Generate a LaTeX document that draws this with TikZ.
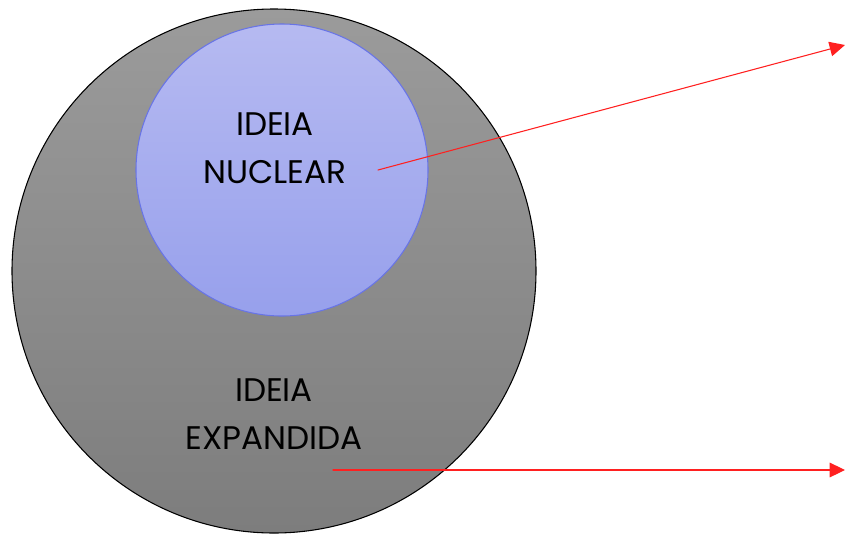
\documentclass[tikz,border=0pt]{standalone}
\usepackage{fontspec}
\setmainfont{Poppins}
\usetikzlibrary{arrows.meta}
\definecolor{OuterTop}{HTML}{9B9B9B}
\definecolor{OuterBottom}{HTML}{7D7D7D}
\definecolor{InnerTop}{HTML}{B6BAF1}
\definecolor{InnerBottom}{HTML}{97A0EC}
\definecolor{InnerRim}{HTML}{6874E6}
\definecolor{ArrowRed}{HTML}{FF2020}

\begin{document}
\begin{tikzpicture}[x=0.75pt,y=-0.75pt,line cap=round,line join=round,
    label/.style={align=center,font=\fontsize{24.5}{36}\selectfont},
    pointer/.style={ArrowRed,line width=0.8pt,-{Triangle[length=11.5pt,width=11pt]}}]
  \useasboundingbox (0,0) rectangle (846,533);
  % the two nested ideas
  \node[circle,draw=black,line width=0.8pt,inner sep=0pt,minimum size=393pt,
        top color=OuterTop,bottom color=OuterBottom] (expandida) at (274,271) {};
  \node[circle,draw=InnerRim,line width=0.8pt,inner sep=0pt,minimum size=219pt,
        top color=InnerTop,bottom color=InnerBottom] (nuclear) at (282,170) {};
  \node[label] (nuclearText) at (275,148) {IDEIA\\NUCLEAR};
  \node[label] (expandidaText) at (274,414) {IDEIA\\EXPANDIDA};
  % arrows leaving to the right
  \coordinate (fromNuclear) at (378,170);\coordinate (toNuclear) at (845,45);
  \coordinate (fromExpandida) at (333,470);\coordinate (toExpandida) at (845,470);
  \draw[pointer] (fromNuclear) -- (toNuclear);
  \draw[pointer] (fromExpandida) -- (toExpandida);
\end{tikzpicture}
\end{document}
